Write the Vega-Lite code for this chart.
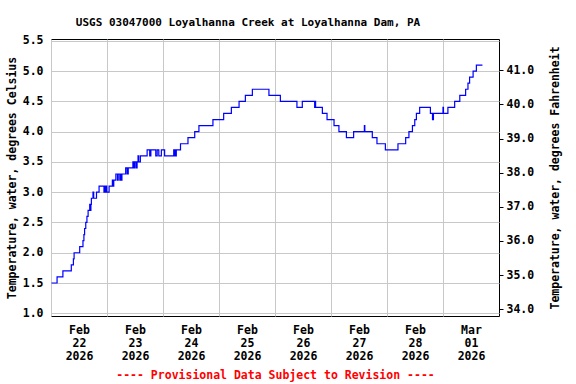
{
  "$schema": "https://vega.github.io/schema/vega-lite/v6.json",
  "width": 448,
  "height": 277,
  "autosize": {"type": "none"},
  "padding": {"left": 51, "top": 39, "right": 77, "bottom": 68},
  "background": "white",
  "config": {
    "view": {"stroke": "black", "strokeWidth": 1},
    "font": "DejaVu Sans Mono",
    "axis": {
      "labelFont": "DejaVu Sans Mono",
      "labelFontWeight": "bold",
      "labelFontSize": 11.5,
      "labelColor": "black",
      "titleFont": "DejaVu Sans Mono",
      "titleFontWeight": "bold",
      "titleFontSize": 11.5,
      "titleColor": "black",
      "gridColor": "#c8c8c8",
      "gridWidth": 1,
      "gridOpacity": 1,
      "domain": false
    }
  },
  "title": {
    "text": "USGS 03047000 Loyalhanna Creek at Loyalhanna Dam, PA",
    "font": "DejaVu Sans Mono",
    "fontWeight": "bold",
    "fontSize": 11,
    "color": "black",
    "anchor": "middle",
    "dx": -27,
    "offset": 7
  },
  "data": {
    "values": [
      {"t": "2026-02-22T00:12", "c": 1.5},
      {"t": "2026-02-22T02:36", "c": 1.6},
      {"t": "2026-02-22T05:06", "c": 1.7},
      {"t": "2026-02-22T08:42", "c": 1.8},
      {"t": "2026-02-22T09:36", "c": 1.9},
      {"t": "2026-02-22T09:54", "c": 2.0},
      {"t": "2026-02-22T12:18", "c": 2.1},
      {"t": "2026-02-22T13:42", "c": 2.2},
      {"t": "2026-02-22T14:06", "c": 2.3},
      {"t": "2026-02-22T14:24", "c": 2.4},
      {"t": "2026-02-22T14:54", "c": 2.5},
      {"t": "2026-02-22T15:24", "c": 2.6},
      {"t": "2026-02-22T15:54", "c": 2.7},
      {"t": "2026-02-22T16:36", "c": 2.8},
      {"t": "2026-02-22T16:54", "c": 2.7},
      {"t": "2026-02-22T17:06", "c": 2.8},
      {"t": "2026-02-22T17:18", "c": 2.9},
      {"t": "2026-02-22T18:00", "c": 3.0},
      {"t": "2026-02-22T18:18", "c": 2.9},
      {"t": "2026-02-22T19:30", "c": 3.0},
      {"t": "2026-02-22T20:36", "c": 3.1},
      {"t": "2026-02-22T22:42", "c": 3.0},
      {"t": "2026-02-22T22:54", "c": 3.1},
      {"t": "2026-02-22T23:18", "c": 3.0},
      {"t": "2026-02-22T23:36", "c": 3.1},
      {"t": "2026-02-22T23:54", "c": 3.0},
      {"t": "2026-02-23T00:54", "c": 3.1},
      {"t": "2026-02-23T02:18", "c": 3.2},
      {"t": "2026-02-23T02:36", "c": 3.1},
      {"t": "2026-02-23T02:54", "c": 3.2},
      {"t": "2026-02-23T03:48", "c": 3.3},
      {"t": "2026-02-23T04:30", "c": 3.2},
      {"t": "2026-02-23T04:48", "c": 3.3},
      {"t": "2026-02-23T05:30", "c": 3.2},
      {"t": "2026-02-23T05:42", "c": 3.3},
      {"t": "2026-02-23T06:12", "c": 3.2},
      {"t": "2026-02-23T06:24", "c": 3.3},
      {"t": "2026-02-23T08:00", "c": 3.4},
      {"t": "2026-02-23T08:36", "c": 3.3},
      {"t": "2026-02-23T09:06", "c": 3.4},
      {"t": "2026-02-23T11:06", "c": 3.5},
      {"t": "2026-02-23T11:36", "c": 3.4},
      {"t": "2026-02-23T12:00", "c": 3.5},
      {"t": "2026-02-23T12:36", "c": 3.4},
      {"t": "2026-02-23T12:54", "c": 3.5},
      {"t": "2026-02-23T13:18", "c": 3.6},
      {"t": "2026-02-23T13:36", "c": 3.5},
      {"t": "2026-02-23T14:18", "c": 3.6},
      {"t": "2026-02-23T17:12", "c": 3.7},
      {"t": "2026-02-23T18:18", "c": 3.6},
      {"t": "2026-02-23T18:48", "c": 3.7},
      {"t": "2026-02-23T20:54", "c": 3.6},
      {"t": "2026-02-23T21:30", "c": 3.7},
      {"t": "2026-02-23T22:12", "c": 3.6},
      {"t": "2026-02-23T23:18", "c": 3.7},
      {"t": "2026-02-24T00:42", "c": 3.6},
      {"t": "2026-02-24T04:36", "c": 3.7},
      {"t": "2026-02-24T04:54", "c": 3.6},
      {"t": "2026-02-24T05:18", "c": 3.7},
      {"t": "2026-02-24T05:30", "c": 3.6},
      {"t": "2026-02-24T05:42", "c": 3.7},
      {"t": "2026-02-24T07:30", "c": 3.8},
      {"t": "2026-02-24T10:42", "c": 3.9},
      {"t": "2026-02-24T13:36", "c": 4.0},
      {"t": "2026-02-24T15:24", "c": 4.1},
      {"t": "2026-02-24T21:24", "c": 4.2},
      {"t": "2026-02-25T02:00", "c": 4.3},
      {"t": "2026-02-25T05:18", "c": 4.4},
      {"t": "2026-02-25T08:36", "c": 4.5},
      {"t": "2026-02-25T11:18", "c": 4.6},
      {"t": "2026-02-25T14:18", "c": 4.7},
      {"t": "2026-02-25T21:24", "c": 4.6},
      {"t": "2026-02-26T02:18", "c": 4.5},
      {"t": "2026-02-26T09:24", "c": 4.4},
      {"t": "2026-02-26T11:42", "c": 4.5},
      {"t": "2026-02-26T17:00", "c": 4.4},
      {"t": "2026-02-26T17:12", "c": 4.5},
      {"t": "2026-02-26T17:24", "c": 4.4},
      {"t": "2026-02-26T20:18", "c": 4.3},
      {"t": "2026-02-26T22:18", "c": 4.2},
      {"t": "2026-02-27T01:18", "c": 4.1},
      {"t": "2026-02-27T03:24", "c": 4.0},
      {"t": "2026-02-27T06:36", "c": 3.9},
      {"t": "2026-02-27T09:42", "c": 4.0},
      {"t": "2026-02-27T14:18", "c": 4.1},
      {"t": "2026-02-27T14:30", "c": 4.0},
      {"t": "2026-02-27T17:42", "c": 3.9},
      {"t": "2026-02-27T19:42", "c": 3.8},
      {"t": "2026-02-27T23:18", "c": 3.7},
      {"t": "2026-02-28T04:42", "c": 3.8},
      {"t": "2026-02-28T08:00", "c": 3.9},
      {"t": "2026-02-28T09:24", "c": 4.0},
      {"t": "2026-02-28T10:54", "c": 4.1},
      {"t": "2026-02-28T11:54", "c": 4.2},
      {"t": "2026-02-28T12:36", "c": 4.3},
      {"t": "2026-02-28T14:00", "c": 4.4},
      {"t": "2026-02-28T18:36", "c": 4.3},
      {"t": "2026-02-28T19:30", "c": 4.2},
      {"t": "2026-02-28T19:54", "c": 4.3},
      {"t": "2026-03-01T00:00", "c": 4.4},
      {"t": "2026-03-01T00:12", "c": 4.3},
      {"t": "2026-03-01T02:06", "c": 4.4},
      {"t": "2026-03-01T05:00", "c": 4.5},
      {"t": "2026-03-01T07:12", "c": 4.6},
      {"t": "2026-03-01T09:42", "c": 4.7},
      {"t": "2026-03-01T10:42", "c": 4.8},
      {"t": "2026-03-01T11:24", "c": 4.9},
      {"t": "2026-03-01T12:54", "c": 5.0},
      {"t": "2026-03-01T14:18", "c": 5.1},
      {"t": "2026-03-01T16:54", "c": 5.1}
    ]
  },
  "layer": [
    {
      "mark": {"type": "line", "interpolate": "step-after", "color": "#0000ff", "strokeWidth": 1.2},
      "encoding": {
        "x": {
          "field": "t",
          "type": "temporal",
          "scale": {"domain": [{"year": 2026, "month": 2, "date": 22}, {"year": 2026, "month": 3, "date": 2}], "nice": false},
          "axis": {
            "values": [
              {"year": 2026, "month": 2, "date": 22},
              {"year": 2026, "month": 2, "date": 23},
              {"year": 2026, "month": 2, "date": 24},
              {"year": 2026, "month": 2, "date": 25},
              {"year": 2026, "month": 2, "date": 26},
              {"year": 2026, "month": 2, "date": 27},
              {"year": 2026, "month": 2, "date": 28},
              {"year": 2026, "month": 3, "date": 1}
            ],
            "labelExpr": "[timeFormat(datum.value, '%b'), timeFormat(datum.value, '%d'), timeFormat(datum.value, '%Y')]",
            "labelOffset": 28,
            "labelPadding": 8,
            "labelLineHeight": 13,
            "labelOverlap": false,
            "labelFlush": false,
            "labelBound": false,
            "ticks": false,
            "grid": true,
            "title": "---- Provisional Data Subject to Revision ----",
            "titleColor": "#ff0000",
            "titlePadding": 8
          }
        },
        "y": {
          "field": "c",
          "type": "quantitative",
          "scale": {"domain": [0.955, 5.53], "nice": false, "zero": false},
          "axis": {
            "values": [1.0, 1.5, 2.0, 2.5, 3.0, 3.5, 4.0, 4.5, 5.0, 5.5],
            "format": ".1f",
            "ticks": false,
            "labelPadding": 8,
            "grid": true,
            "title": "Temperature, water, degrees Celsius",
            "titlePadding": 5
          }
        }
      }
    },
    {
      "data": {"values": [{"f": 34.0}, {"f": 41.0}]},
      "mark": {"type": "point", "opacity": 0},
      "encoding": {
        "y": {
          "field": "f",
          "type": "quantitative",
          "scale": {"domain": [33.8, 41.92], "nice": false, "zero": false},
          "axis": {
            "orient": "right",
            "values": [34, 35, 36, 37, 38, 39, 40, 41],
            "format": ".1f",
            "grid": false,
            "ticks": true,
            "tickSize": 4,
            "tickColor": "black",
            "labelPadding": 3,
            "title": "Temperature, water, degrees Fahrenheit",
            "titleAngle": -90,
            "titlePadding": 27
          }
        }
      }
    }
  ],
  "resolve": {"scale": {"y": "independent"}, "axis": {"y": "independent"}}
}
